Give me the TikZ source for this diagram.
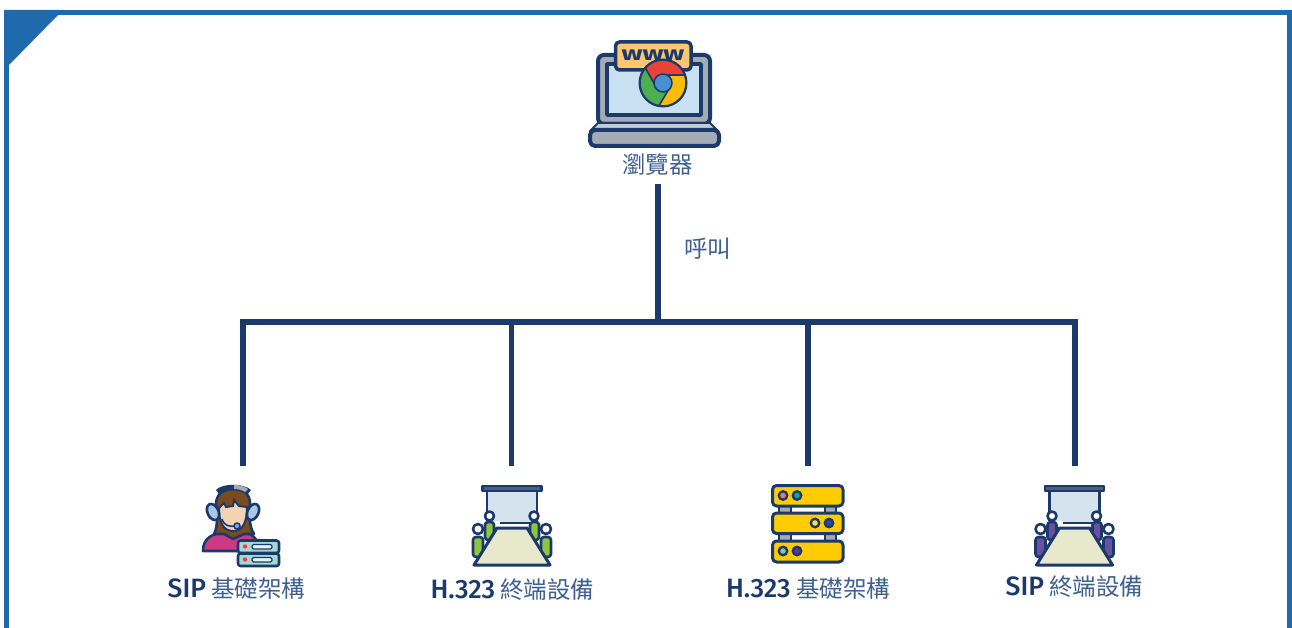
\documentclass[tikz,border=0pt]{standalone}
\usepackage{fontspec}
\setmainfont{Noto Sans CJK TC}
\newfontfamily\latfont{Fira Sans Medium}[Scale=1.13]
\newfontfamily\wwwfont{Fira Sans}[BoldFont={Fira Sans Bold}]
\definecolor{navy}{HTML}{1B3A6B}
\definecolor{framec}{HTML}{1F69AD}
\definecolor{labelc}{HTML}{3F5F8F}
\definecolor{screenc}{HTML}{D5E3EF}
\definecolor{tablec}{HTML}{E8E8CC}
\definecolor{barc}{HTML}{4D5F7C}
\definecolor{peopleg}{HTML}{8CC63F}
\definecolor{peoplep}{HTML}{6B4FA0}
\definecolor{servery}{HTML}{FFCC00}
\definecolor{steel}{HTML}{A3ABB5}
\definecolor{wwwbg}{HTML}{FFC670}
\definecolor{lapscreen}{HTML}{C9E0F3}
\definecolor{tealc}{HTML}{A4D9D3}
\definecolor{padc}{HTML}{A8C8E8}
\definecolor{skin}{HTML}{F2D4B3}
\definecolor{hair}{HTML}{7B4A1E}
\definecolor{pinkc}{HTML}{CC3A85}
\definecolor{cred}{HTML}{EA4335}
\definecolor{cyel}{HTML}{FBBC05}
\definecolor{cgrn}{HTML}{4CAF50}
\definecolor{cblu}{HTML}{4A90D0}
\tikzset{
  icon/.style={draw=navy,line width=2.6pt,line join=round,line cap=round},
  wire/.style={draw=navy,line width=5.5pt},
  lab/.style={text=labelc,font=\fontsize{23.5}{26}\selectfont,inner sep=0pt,anchor=center},
  led/.style={draw=navy,line width=2.4pt},
}
\newcommand{\lat}[1]{{\latfont\textcolor{navy}{#1}}}
\newcommand{\confroom}[2]{%
  \begin{scope}[shift={(#1,0)}]
    \path[icon,fill=screenc] (487,491) rectangle (537,523);
    \path[draw=white,line width=4pt] (485,523) -- (500,523);
    \path[draw=white,line width=4pt] (530,523) -- (539,523);
    \path[icon,fill=barc] (482.5,486) rectangle (541.5,491);
    \path[icon,fill=#2,rounded corners=3pt] (485,522) rectangle (494,540);
    \path[icon,fill=#2,rounded corners=3pt] (530,522) rectangle (539,540);
    \path[icon,fill=white] (489.5,516) circle[radius=4.5];
    \path[icon,fill=white] (534,516) circle[radius=4.5];
    \path[icon,fill=#2,rounded corners=3pt] (473,537) rectangle (483,557);
    \path[icon,fill=#2,rounded corners=3pt] (541,537) rectangle (551,557);
    \path[icon,fill=white] (478,529) circle[radius=5];
    \path[icon,fill=white] (546,529) circle[radius=5];
    \path[icon,fill=tablec,line width=3pt] (497,528) -- (527,528) -- (550,565) -- (474,565) -- cycle;
  \end{scope}}
\begin{document}
\begin{tikzpicture}[x=1pt,y=-1pt]
\useasboundingbox (0,0) rectangle (1292,628);
\fill[white] (0,0) rectangle (1292,628);
% frame
\draw[framec,line width=5pt] (6.5,628) -- (6.5,12.5) -- (1289.5,12.5) -- (1289.5,628);
\fill[framec] (4,10) -- (59,10) -- (58,15) -- (9,65) -- (4,70) -- cycle;

% laptop
\path[icon,fill=steel,line width=4pt,rounded corners=6pt] (598,124) -- (598,55) -- (710,55) -- (710,124) -- cycle;
\path[icon,fill=lapscreen,line width=3.5pt] (607,64) rectangle (701,115);
\path[icon,fill=steel!60,line width=2pt] (598,123) -- (710,123) -- (718,131) -- (590,131) -- cycle;
\path[icon,fill=steel,line width=4pt,rounded corners=5pt] (590,130) rectangle (719,146);
\path[icon,fill=wwwbg,line width=3.5pt,rounded corners=4pt] (615.5,42) rectangle (691,70);
\node[inner sep=0pt,text=navy,font=\fontsize{20}{20}\wwwfont\bfseries,xscale=1.4,transform shape] (www) at (653,55) {www};
\begin{scope}[shift={(663,83)}]
  \fill[navy] (0,0) circle[radius=24.5];
  \path[fill=cred,draw=navy,line width=1.5pt,line join=round] (-20:23) arc[start angle=-20,end angle=-140,radius=23] -- (-210:8) -- (-90:8) -- cycle;
  \path[fill=cyel,draw=navy,line width=1.5pt,line join=round] (100:23) arc[start angle=100,end angle=-20,radius=23] -- (-90:8) -- (30:8) -- cycle;
  \path[fill=cgrn,draw=navy,line width=1.5pt,line join=round] (-140:23) arc[start angle=-140,end angle=-260,radius=23] -- (30:8) -- (150:8) -- cycle;
  \path[fill=cblu,draw=navy,line width=1.5pt] (0,0) circle[radius=9];
\end{scope}
\node[lab] (browser) at (657.5,165) {瀏覽器};

% connectors
\node[lab] (call) at (707.5,249) {呼叫};
\coordinate (stemtop) at (658,184);
\coordinate (hub) at (658,322);
\coordinate (busa) at (243,322);
\coordinate (busb) at (511.5,322);
\coordinate (busc) at (808,322);
\coordinate (busd) at (1075,322);
\coordinate (enda) at (243,466);
\coordinate (endb) at (511.5,466);
\coordinate (endc) at (808,466);
\coordinate (endd) at (1075,466);
\draw[wire] (stemtop) -- (hub);
\draw[wire,line cap=rect] (busa) -- (busd);
\draw[wire] (busa) -- (enda);
\draw[wire] (busb) -- (endb);
\draw[wire] (busc) -- (endc);
\draw[wire] (busd) -- (endd);

% agent
\path[icon,fill=pinkc] (203,551) .. controls (203,538) and (212,534) .. (224,532) -- (233,538) -- (244,532) .. controls (252,534) and (258,538) .. (260,551) -- cycle;
\path[icon,fill=hair] (214,534) .. controls (219,525) and (216,512) .. (216,503) .. controls (217,493) and (225,488) .. (233,488) .. controls (242,488) and (250,494) .. (250,503) .. controls (250,512) and (248,525) .. (254,534) -- (244,534) -- (233,539) -- (224,534) -- cycle;
\path[draw=navy,line width=2pt,fill=skin] (219,508) -- (224,503) -- (226,507) -- (233,506) -- (234,500) -- (239,506) -- (247,507) .. controls (247,522) and (243,531) .. (233,531) .. controls (223,531) and (219,522) .. (219,508) -- cycle;
\fill[navy] (216,490) .. controls (222,483) and (244,483) .. (251,490) -- (247,495) .. controls (240,489) and (226,489) .. (220,495) -- cycle;
\fill[steel] (234,484.5) .. controls (239,485) and (244,486) .. (248,489) -- (245,492) .. controls (242,490) and (238,489) .. (234,489) -- cycle;
\path[icon,fill=padc,rotate around={25:(213,512)}] (213,512) ellipse[x radius=5.5,y radius=8.5];
\path[icon,fill=padc,rotate around={-25:(253,512)}] (253,512) ellipse[x radius=5.5,y radius=8.5];
\path[draw=navy,line width=1.6pt] (222,519) .. controls (224,526) and (230,527) .. (236,526);
\path[draw=navy,line width=1.5pt,fill=padc!80!blue] (237,526) circle[radius=3];
\path[icon,fill=tealc,rounded corners=2.5pt] (238,540.5) rectangle (279,553);
\path[icon,fill=tealc,rounded corners=2.5pt] (238,553.5) rectangle (279,566);
\fill[red!70!pink] (245,546.5) circle[radius=2.2];
\fill[red!70!pink] (245,559.5) circle[radius=2.2];
\path[draw=navy,line width=1.4pt,fill=white!70!tealc,rounded corners=1.5pt] (252,544.5) rectangle (272,549);
\path[draw=navy,line width=1.4pt,fill=white!70!tealc,rounded corners=1.5pt] (252,557.5) rectangle (272,562);

% rooms
\confroom{0}{peopleg}
\confroom{562.5}{peoplep}

% server rack
\path[icon,fill=steel] (779,505) rectangle (791,514);
\path[icon,fill=steel] (825,505) rectangle (836,514);
\path[icon,fill=steel] (779,533) rectangle (791,542);
\path[icon,fill=steel] (825,533) rectangle (836,542);
\path[icon,fill=servery,line width=3pt,rounded corners=4pt] (772.5,485.5) rectangle (843,506);
\path[icon,fill=servery,line width=3pt,rounded corners=4pt] (772.5,513) rectangle (843,533.5);
\path[icon,fill=servery,line width=3pt,rounded corners=4pt] (772.5,541) rectangle (843,562);
\path[led,fill={rgb,255:red,244;green,124;blue,92}] (783,495.5) circle[radius=4.2];
\path[led,fill={rgb,255:red,16;green,165;blue,165}] (797,495.5) circle[radius=4.2];
\path[led,fill={rgb,255:red,245;green,224;blue,80}] (815,523) circle[radius=4.2];
\path[led,fill={rgb,255:red,43;green,74;blue,154}] (829,523) circle[radius=4.2];
\path[led,fill={rgb,255:red,126;green,203;blue,161}] (783,551) circle[radius=4.2];
\path[led,fill={rgb,255:red,106;green,47;blue,160}] (797,551) circle[radius=4.2];

% labels
\node[lab] (siporg) at (236.5,589) {\lat{SIP} 基礎架構};
\node[lab] (hterm) at (512.5,590) {\lat{H.323} 終端設備};
\node[lab] (horg) at (808,589) {\lat{H.323} 基礎架構};
\node[lab] (sipterm) at (1074.5,587) {\lat{SIP} 終端設備};
\end{tikzpicture}
\end{document}
